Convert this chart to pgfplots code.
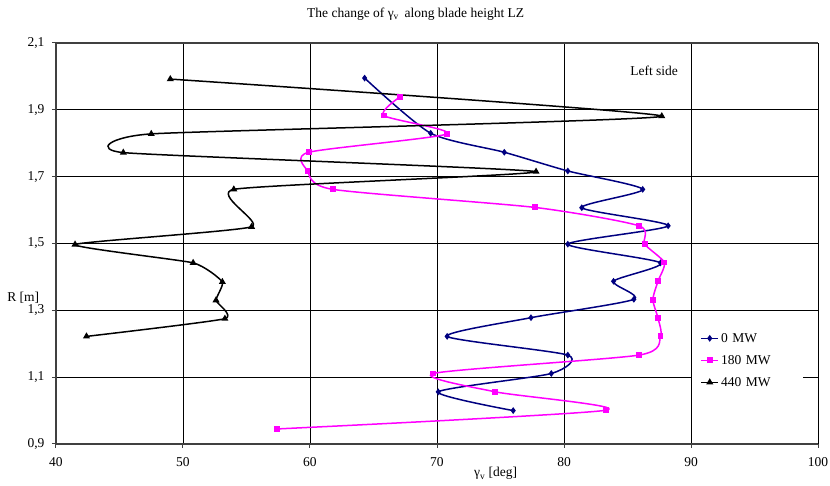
\documentclass[border=0pt]{standalone}
\usepackage{fontspec}
\setmainfont{Liberation Serif}
\usepackage{pgfplots}
\pgfplotsset{compat=1.18}
\definecolor{navyb}{HTML}{000080}
\definecolor{mag}{HTML}{FF00FF}
\definecolor{frame}{HTML}{404040}
\begin{document}
\begin{tikzpicture}
\useasboundingbox (-56pt,-42pt) rectangle (774pt,444pt);
\begin{axis}[
  at={(0,0)}, anchor=south west,
  scale only axis, width=762pt, height=401pt,
  xmin=40, xmax=100, ymin=0.9, ymax=2.1,
  xtick={40,50,...,100},
  ytick={0.9,1.1,1.3,1.5,1.7,1.9,2.1},
  /pgf/number format/assume math mode=true,
  yticklabel style={/pgf/number format/use comma, /pgf/number format/fixed, /pgf/number format/precision=1, /pgf/number format/fixed zerofill, xshift=-4pt},
  xticklabel style={yshift=-6pt},
  tick align=outside, tick style={frame, line width=1pt}, major tick length=4pt,
  xtick pos=bottom, ytick pos=left,
  grid=major, grid style={black, line width=0.8pt},
  axis line style={draw=none},
  font=\fontsize{13.5}{16}\selectfont,
  legend style={at={(0.835,0.292)}, anchor=north west, draw=none, fill=white,
    font=\fontsize{13.5}{16}\selectfont, inner xsep=8pt, inner ysep=4pt, row sep=7.5pt,
    cells={anchor=west}, text width=72pt},
  clip=false,
]
\addplot[navyb, line width=1.5pt, smooth, tension=0.4, mark=diamond*, mark size=2.2pt] coordinates {
(64.3,1.995) (69.5,1.83) (75.3,1.773) (80.3,1.717) (86.2,1.662) (81.4,1.607)
(88.2,1.553) (80.3,1.498) (87.6,1.442) (83.9,1.387) (85.5,1.333) (77.4,1.278)
(70.8,1.222) (80.3,1.166) (79.0,1.111) (70.1,1.056) (76.0,1.000)};
\addlegendentry{0 MW}
\addplot[mag, line width=1.5pt, smooth, tension=0.4, mark=square*, mark size=2.2pt] coordinates {
(67.1,1.939) (65.8,1.883) (70.8,1.828) (59.9,1.773) (59.8,1.718) (61.8,1.662)
(77.7,1.608) (85.9,1.553) (86.35,1.498) (87.9,1.443) (87.4,1.387) (87.0,1.332)
(87.4,1.277) (87.6,1.222) (85.9,1.166) (69.7,1.111) (74.6,1.056) (83.3,1.001)
(57.4,0.945)};
\addlegendentry{180 MW}
\addplot[black, line width=1.5pt, smooth, tension=0.28, mark=triangle*, mark size=2.6pt] coordinates {
(49.0,1.992) (87.7,1.881) (47.5,1.828) (45.3,1.772) (77.8,1.715) (54.0,1.662)
(55.4,1.550) (41.5,1.497) (50.8,1.442) (53.1,1.385) (52.6,1.330) (53.3,1.275)
(42.4,1.222)};
\addlegendentry{440 MW}
\draw[frame, line width=2pt] (rel axis cs:0,0) -- (rel axis cs:1,0);
\draw[frame, line width=2pt] (rel axis cs:0,0) -- (rel axis cs:0,1) -- (rel axis cs:1,1);
\draw[black, line width=1pt] (rel axis cs:1,0) -- (rel axis cs:1,1);
\node[font=\fontsize{13.5}{16}\selectfont] at (axis cs:87.1,2.016) {Left side};
\node[font=\fontsize{13.5}{16}\selectfont] at (axis description cs:0.472,1.072) {The change of γ\textsubscript{v}\, along blade height LZ};
\node[font=\fontsize{13.5}{16}\selectfont] at (axis description cs:0.577,-0.074) {γ\textsubscript{v} [deg]};
\node[font=\fontsize{13.5}{16}\selectfont] at (axis description cs:-0.043,0.364) {R [m]};
\end{axis}
\end{tikzpicture}
\end{document}
